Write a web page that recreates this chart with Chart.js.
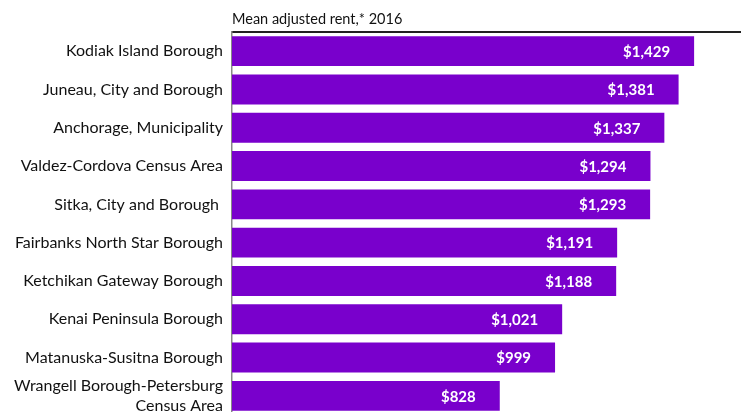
<!DOCTYPE html>
<html lang="en">
<head>
    <meta charset="UTF-8">
    <title>Mean adjusted rent, 2016</title>
    <style>
        html, body { margin: 0; padding: 0; background: #fff; overflow: hidden; }
        .wrap { position: relative; width: 741px; height: 415px; }
    </style>
    <script src="https://cdn.jsdelivr.net/npm/chart.js"></script>
</head>
<body>
    <div class="wrap">
        <canvas id="rentChart" width="741" height="415"></canvas>
    </div>

    <script>
        const boroughs = [
            'Kodiak Island Borough',
            'Juneau, City and Borough',
            'Anchorage, Municipality',
            'Valdez-Cordova Census Area',
            'Sitka, City and Borough ',
            'Fairbanks North Star Borough',
            'Ketchikan Gateway Borough',
            'Kenai Peninsula Borough',
            'Matanuska-Susitna Borough',
            ['Wrangell Borough-Petersburg', 'Census Area']
        ];
        const meanRent = [1429, 1381, 1337, 1294, 1293, 1191, 1188, 1021, 999, 828];
        const chartTitle = 'Mean adjusted rent,* 2016';

        const fontFamily = 'Lato, "Open Sans", sans-serif';

        // value labels drawn inside the end of each bar, plus the title above the plot
        const labelPlugin = {
            id: 'barLabels',
            afterDatasetsDraw(chart) {
                const ctx = chart.ctx;
                const meta = chart.getDatasetMeta(0);
                ctx.save();
                ctx.fillStyle = '#ffffff';
                ctx.font = 'bold 15px ' + fontFamily;
                ctx.textAlign = 'right';
                ctx.textBaseline = 'middle';
                meta.data.forEach((bar, i) => {
                    const txt = '$' + meanRent[i].toLocaleString('en-US');
                    ctx.fillText(txt, bar.x - 24, bar.y + 1);
                });
                ctx.fillStyle = '#111';
                ctx.font = '14.5px ' + fontFamily;
                ctx.textAlign = 'left';
                ctx.textBaseline = 'alphabetic';
                ctx.fillText(chartTitle, chart.chartArea.left, 24);
                ctx.restore();
            }
        };

        new Chart(document.getElementById('rentChart'), {
            type: 'bar',
            data: {
                labels: boroughs,
                datasets: [{
                    data: meanRent,
                    backgroundColor: '#7900CC',
                    barPercentage: 0.78,
                    categoryPercentage: 1.0
                }]
            },
            options: {
                indexAxis: 'y',
                responsive: false,
                animation: false,
                layout: { padding: 0 },
                plugins: {
                    legend: { display: false },
                    tooltip: { enabled: false }
                },
                scales: {
                    x: {
                        position: 'top',
                        min: 0,
                        max: 1574,
                        grid: { display: false },
                        border: { display: true, color: '#222', width: 2 },
                        ticks: { display: false },
                        afterFit(scale) { scale.height = 32; }
                    },
                    y: {
                        grid: { display: false },
                        border: { display: true, color: '#888', width: 1.5 },
                        ticks: {
                            color: '#111',
                            padding: 1,
                            autoSkip: false,
                            font: { family: fontFamily, size: 16 }
                        },
                        afterFit(scale) {
                            scale.width = 232;
                            scale.paddingTop = 0;
                            scale.paddingBottom = 0;
                        }
                    }
                }
            },
            plugins: [labelPlugin]
        });
    </script>
</body>
</html>
